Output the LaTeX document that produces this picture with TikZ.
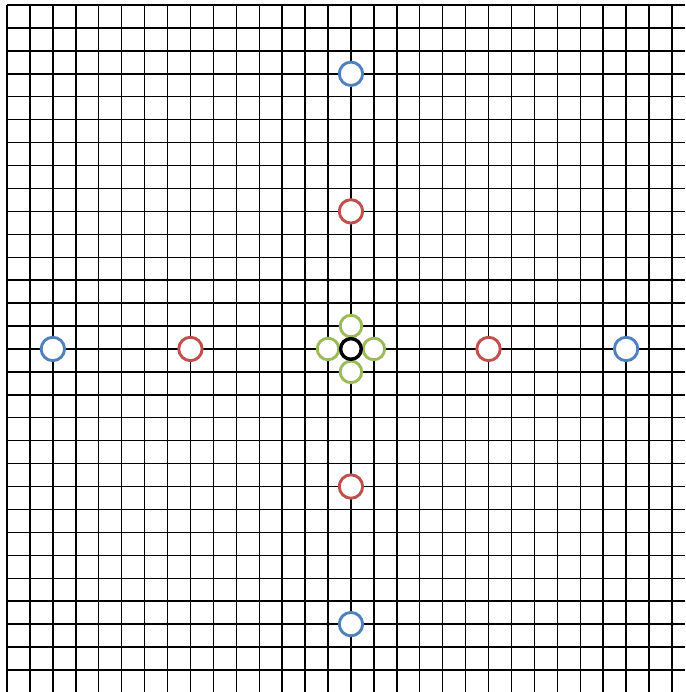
\documentclass[tikz,border=0pt]{standalone}
\usepackage{xcolor}
\definecolor{ringblue}{RGB}{79,129,189}
\definecolor{ringred}{RGB}{192,80,77}
\definecolor{ringgreen}{RGB}{155,187,89}

\begin{document}
\begin{tikzpicture}[x=0.5cm,y=0.5cm,
    ring/.style={circle, draw, fill=white, inner sep=0pt, line width=1.8pt},
    outerring/.style={ring, draw=ringblue, minimum size=0.51cm},
    midring/.style={ring, draw=ringred, minimum size=0.51cm},
    nearring/.style={ring, draw=ringgreen, minimum size=0.47cm},
    centrering/.style={ring, draw=black, minimum size=0.45cm, line width=2.1pt}]
      % Picture frame
      \useasboundingbox (-0.305,-29.96) rectangle (29.57,0.218);

      % Grid
      \draw[line width=0.9pt, step=1] (0,-29.96) grid (29.57,0);

      % Outer rings (blue)
      \node[outerring] (bleft) at (2,-15) {};
      \node[outerring] (bright) at (27,-15) {};
      \node[outerring] (btop) at (15,-3) {};
      \node[outerring] (bbottom) at (15,-27) {};

      % Middle rings (red)
      \node[midring] (rleft) at (8,-15) {};
      \node[midring] (rright) at (21,-15) {};
      \node[midring] (rtop) at (15,-9) {};
      \node[midring] (rbottom) at (15,-21) {};

      % Neighbour rings (green)
      \node[nearring] (gleft) at (14,-15) {};
      \node[nearring] (gright) at (16,-15) {};
      \node[nearring] (gtop) at (15,-14) {};
      \node[nearring] (gbottom) at (15,-16) {};

      % Centre ring
      \node[centrering] (centre) at (15,-15) {};
    \end{tikzpicture}
\end{document}
